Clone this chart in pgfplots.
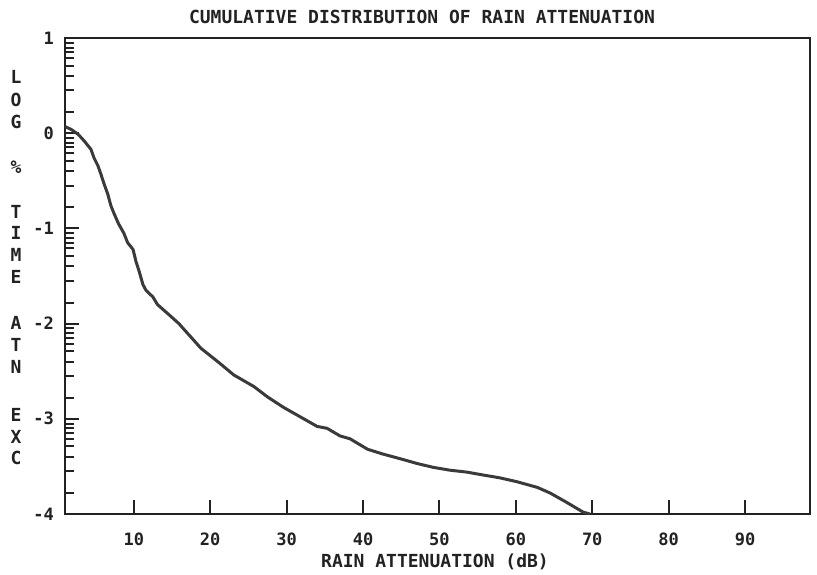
\documentclass[border=0pt]{standalone}
\usepackage{fontspec}
\setmainfont{DejaVu Sans Mono}
\usepackage{pgfplots}
\pgfplotsset{compat=1.18}
\definecolor{inkline}{HTML}{3A3A3A}
\definecolor{inkaxis}{HTML}{222222}

\begin{document}
\begin{tikzpicture}
% page frame, 1px of the reference = 0.5pt
\path[use as bounding box] (-32.5pt,-30pt) rectangle (376pt,257pt);

\begin{axis}[
    at={(0,0)}, anchor=south west,
    scale only axis,
    width=372.5pt, height=238pt,
    xmin=1, xmax=98.5,
    ymin=-4, ymax=1,
    axis line style={inkaxis, line width=1pt},
    tick style={inkaxis, line width=1pt},
    tick align=inside,
    xtick pos=left, ytick pos=left,
    major tick length=7pt,
    minor tick length=4.5pt,
    xtick={10,20,30,40,50,60,70,80,90},
    xticklabels={10,20,30,40,50,60,70,80,90},
    ytick={-4,-3,-2,-1,0,1},
    yticklabels={-4,-3,-2,-1,0,1},
    minor ytick={-3.78,-3.55,-3.40,-3.29,-3.21,-3.15,-3.10,-3.05,
                 -2.78,-2.55,-2.40,-2.29,-2.21,-2.15,-2.10,-2.05,
                 -1.78,-1.55,-1.40,-1.29,-1.21,-1.15,-1.10,-1.05,
                 -0.78,-0.55,-0.40,-0.29,-0.21,-0.15,-0.10,-0.05,
                 0.22,0.45,0.60,0.71,0.79,0.85,0.90,0.95},
    ticklabel style={font=\bfseries\fontsize{8.5}{10}\selectfont, text=inkaxis},
    xticklabel style={yshift=-6pt},
    yticklabel style={xshift=-2pt},
]
\addplot[inkline, line width=1.5pt, mark=none] coordinates {
    (1,0.07) (1.8,0.04) (2.7,-0.01) (3.5,-0.08) (4.4,-0.17) (4.8,-0.26)
    (5.3,-0.34) (5.7,-0.43) (6.1,-0.53) (6.6,-0.64) (7.0,-0.76) (7.4,-0.84)
    (8.0,-0.95) (8.7,-1.05) (9.2,-1.15) (9.9,-1.22) (10.3,-1.35) (10.7,-1.45)
    (11.2,-1.59) (11.6,-1.65) (12.5,-1.72) (13.1,-1.80) (14.8,-1.92) (15.9,-2.00)
    (18.8,-2.26) (21.0,-2.40) (23.1,-2.54) (25.7,-2.66) (27.5,-2.77) (29.6,-2.88)
    (31.8,-2.98) (34.0,-3.08) (35.3,-3.10) (37.0,-3.18) (38.3,-3.21) (40.6,-3.32)
    (42.6,-3.37) (44.9,-3.42) (47.1,-3.47) (49.2,-3.51) (51.4,-3.54) (53.6,-3.56)
    (55.7,-3.59) (57.9,-3.62) (60.1,-3.66) (62.8,-3.72) (64.5,-3.78) (66.7,-3.88)
    (68.8,-3.98) (69.7,-4.00)
};
\end{axis}

\begin{scope}[every node/.style={font=\bfseries\fontsize{9}{10}\selectfont, text=inkaxis, inner sep=0pt}]
\node at (178.5pt,248.5pt) {CUMULATIVE DISTRIBUTION OF RAIN ATTENUATION};
\node at (185pt,-24pt) {RAIN ATTENUATION (dB)};
% stacked y label
\node at (-24.5pt,218.5pt) {L};
\node at (-24.5pt,207pt) {O};
\node at (-24.5pt,196pt) {G};
\node at (-24.5pt,173.5pt) {\%};
\node at (-24.5pt,151pt) {T};
\node at (-24.5pt,140.5pt) {I};
\node at (-24.5pt,129.5pt) {M};
\node at (-24.5pt,118.5pt) {E};
\node at (-24.5pt,95.5pt) {A};
\node at (-24.5pt,84.5pt) {T};
\node at (-24.5pt,73.5pt) {N};
\node at (-24.5pt,49.5pt) {E};
\node at (-24.5pt,38.5pt) {X};
\node at (-24.5pt,28pt) {C};
\end{scope}
\end{tikzpicture}
\end{document}
